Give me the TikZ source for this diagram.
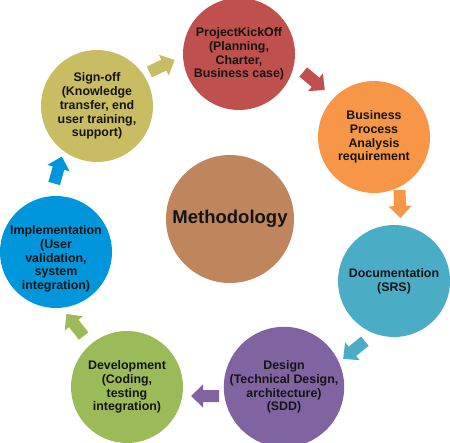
\documentclass[tikz,border=0pt]{standalone}
\usepackage{fontspec}
\setmainfont{Liberation Sans}
\definecolor{ckick}{HTML}{C0504D}
\definecolor{cbpa}{HTML}{F79646}
\definecolor{cdoc}{HTML}{4BACC6}
\definecolor{cdesign}{HTML}{8064A2}
\definecolor{cdev}{HTML}{9BBB59}
\definecolor{cimpl}{HTML}{0096DB}
\definecolor{csign}{HTML}{C9BD63}
\definecolor{cmeth}{HTML}{BF855D}
\definecolor{ctext}{HTML}{141414}

\begin{document}
\begin{tikzpicture}[x=1pt, y=-1pt,
  phase/.style={circle, minimum size=112pt, inner sep=0pt, align=center, text=ctext,
    font=\fontsize{12.4}{13.8}\selectfont\bfseries},
  flow/.pic={\fill (-14,-6) -- (2,-6) -- (2,-11.5) -- (14,0) -- (2,11.5) -- (2,6) -- (-14,6) -- cycle;}]
  \useasboundingbox (0,0) rectangle (450,442);

  % Centre circle
  \node[phase, fill=cmeth, minimum size=128pt, font=\fontsize{18.5}{20}\selectfont\bfseries]
    (meth) at (230,219) {Methodology};

  % Phases
  \node[phase, fill=ckick] (kickoff) at (239,54) {ProjectKickOff\\(Planning,\\Charter,\\Business case)};
  \node[phase, fill=cbpa] (bpa) at (374,137) {Business\\Process\\Analysis\\requirement};
  \node[phase, fill=cdoc] (doc) at (394,281) {Documentation\\(SRS)};
  \node[phase, fill=cdesign] (design) at (284,387) {Design\\(Technical Design,\\architecture)\\(SDD)};
  \node[phase, fill=cdev] (dev) at (127,387) {Development\\(Coding,\\testing\\integration)};
  \node[phase, fill=cimpl, label={[yshift=-7pt, align=center, text=ctext,
    font=\fontsize{12.4}{13.8}\selectfont\bfseries]center:Implementation\\(User\\validation,\\system\\integration)}]
    (impl) at (56,252) {};
  \node[phase, fill=csign] (signoff) at (97,106) {Sign-off\\(Knowledge\\transfer, end\\user training,\\support)};

  % Block arrows
  \pic[fill=csign, rotate=25] (a1) at (162,66) {flow};
  \pic[fill=ckick, rotate=-40] (a2) at (314,81) {flow};
  \pic[fill=cbpa, rotate=-88] (a3) at (400,204) {flow};
  \pic[fill=cdoc, rotate=-141] (a4) at (354,350) {flow};
  \pic[fill=cdesign, rotate=180] (a5) at (205,396) {flow};
  \pic[fill=cdev, rotate=128] (a6) at (75,325) {flow};
  \pic[fill=cimpl, rotate=74] (a7) at (58,170) {flow};
\end{tikzpicture}
\end{document}
